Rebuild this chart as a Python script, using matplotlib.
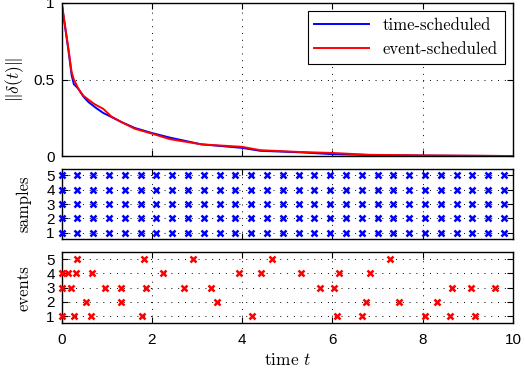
import numpy as np
import matplotlib
matplotlib.use('Agg')
import matplotlib.pyplot as plt

plt.rcParams['mathtext.fontset'] = 'cm'
plt.rcParams['font.family'] = ['Liberation Sans', 'DejaVu Sans']

# top panel: norm of the error
t_curve = [0, 0.07, 0.15, 0.22, 0.27, 0.29, 0.37, 0.48, 0.59, 0.74, 0.92, 1.1,
           1.32, 1.62, 2.0, 2.4, 3.1, 4.0, 4.4, 5.3, 6.0, 6.8, 8.0, 10.0]
err_time = [1.0, 0.855, 0.69, 0.53, 0.47, 0.465, 0.44, 0.39, 0.355, 0.32, 0.283, 0.257,
            0.224, 0.185, 0.152, 0.122, 0.078, 0.055, 0.036, 0.026, 0.014, 0.009, 0.005, 0.002]
err_event = [1.0, 0.86, 0.70, 0.55, 0.5, 0.49, 0.44, 0.395, 0.37, 0.338, 0.31, 0.26,
             0.224, 0.18, 0.148, 0.112, 0.078, 0.062, 0.04, 0.028, 0.022, 0.01, 0.006, 0.002]

# middle panel: periodic samples of the 5 agents
sample_t = [0, 0.35, 0.7, 1.05, 1.4, 1.75, 2.1, 2.45, 2.8, 3.15, 3.5, 3.85, 4.2, 4.55,
            4.9, 5.25, 5.6, 5.95, 6.3, 6.65, 7.0, 7.35, 7.7, 8.05, 8.4, 8.75, 9.1, 9.45, 9.8]
agents = [1, 2, 3, 4, 5]

# bottom panel: event times per agent
events = {
    1: [0, 0.27, 0.65, 1.77, 4.21, 6.1, 6.66, 8.05, 8.61, 9.15],
    2: [0.53, 1.32, 3.45, 6.75, 7.48, 8.32],
    3: [0, 0.2, 0.95, 1.32, 1.86, 2.72, 3.31, 5.73, 6.03, 8.65, 9.07, 9.6],
    4: [0, 0.13, 0.31, 0.67, 2.24, 3.94, 4.42, 5.31, 6.15, 6.83],
    5: [0.34, 1.82, 2.9, 4.66, 7.28],
}

fig = plt.figure(figsize=(5.25, 3.74), dpi=100)
L, W = 0.1175, 0.8595
ax1 = fig.add_axes([L, 0.582, W, 0.41])
ax2 = fig.add_axes([L, 0.361, W, 0.187])
ax3 = fig.add_axes([L, 0.136, W, 0.19])

serif = dict(family='cmr10', fontsize=12)

for ax in (ax1, ax2, ax3):
    ax.set_xlim(0, 10)
    ax.set_xticks([0, 2, 4, 6, 8, 10])
    ax.grid(True, color='black', linestyle=(0, (1, 6)), linewidth=0.7)
    ax.tick_params(direction='in', length=4, top=True, right=True, labelsize=11, pad=5)
    for s in ax.spines.values():
        s.set_linewidth(1.0)

ax1.plot(t_curve, err_time, color='#0000ff', lw=1.4, label='time-scheduled')
ax1.plot(t_curve, err_event, color='#ff0000', lw=1.4, label='event-scheduled')
ax1.set_ylim(0, 1)
ax1.set_yticks([0, 0.5, 1])
ax1.set_yticklabels(['0', '0.5', '1'])
ax1.set_xticklabels([])
ax1.set_ylabel(r'$\|\delta(t)\|$', fontsize=12.5)
ax1.yaxis.set_label_coords(-0.078, 0.5)
leg = ax1.legend(loc='upper right', prop={'family': 'cmr10', 'size': 12},
                 handlelength=3.3, fancybox=False, framealpha=1, borderaxespad=0.5)
leg.get_frame().set_edgecolor('black')
leg.get_frame().set_linewidth(0.8)

for a in agents:
    ax2.plot(sample_t, [a] * len(sample_t), linestyle='none', marker='x',
             color='#0000ff', ms=5, mew=1.8, clip_on=False, zorder=3)
ax2.set_ylim(0.55, 5.45)
ax2.set_yticks(agents)
ax2.set_xticklabels([])
ax2.set_ylabel('samples', **serif)
ax2.yaxis.set_label_coords(-0.068, 0.5)

for a in agents:
    ax3.plot(events[a], [a] * len(events[a]), linestyle='none', marker='x',
             color='#ff0000', ms=5, mew=1.8, clip_on=False, zorder=3)
ax3.set_ylim(0.5, 5.5)
ax3.set_yticks(agents)
ax3.tick_params(axis='x', pad=7)
ax3.set_ylabel('events', **serif)
ax3.yaxis.set_label_coords(-0.066, 0.5)
ax3.set_xlabel('time $t$', fontsize=12.5, family='cmr10', labelpad=4)

fig.savefig('out.png', dpi=100)
